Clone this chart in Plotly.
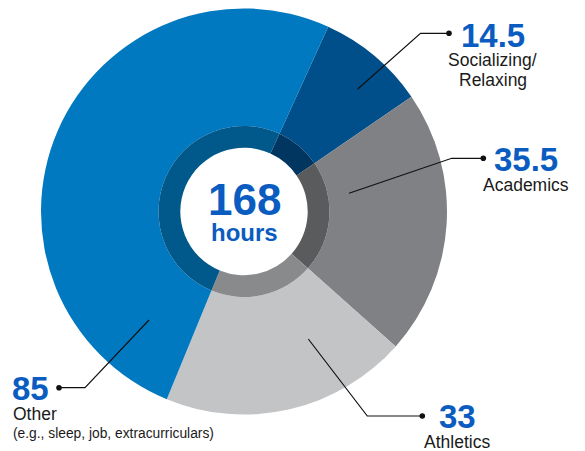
import plotly.graph_objects as go

# ---- data ----
categories = ["Socializing/<br>Relaxing", "Academics", "Athletics", "Other"]
hours = [14.5, 35.5, 33, 85]
value_labels = ["14.5", "35.5", "33", "85"]
total_label = "168"
total_unit = "hours"
other_note = "(e.g., sleep, job, extracurriculars)"

# ---- styling ----
slice_colors = ["#004f8b", "#808184", "#c3c4c6", "#0079c1"]
ring_colors = ["#003660", "#5a5b5d", "#898a8b", "#00588b"]
BLUE = "#0a5cc0"
W, H = 585, 451
OFF = 8                        # page body margin compensation
FW, FH = W - OFF, H - OFF
CX, CY = 244, 211.5            # pie centre (page px, from top)
R_OUT, R_RING, R_HOLE = 203, 85.5, 63.7
ROT = 24.5

def dom(r):
    return dict(x=[(CX - r - OFF) / FW, (CX + r - OFF) / FW],
                y=[1 - (CY + r - OFF) / FH, 1 - (CY - r - OFF) / FH])

fig = go.Figure()
fig.add_trace(go.Pie(values=hours, labels=categories, sort=False, direction="clockwise",
                     rotation=ROT, hole=R_RING / R_OUT, domain=dom(R_OUT),
                     marker=dict(colors=slice_colors, line=dict(width=0)),
                     textinfo="none", hoverinfo="label+value", showlegend=False))
fig.add_trace(go.Pie(values=hours, labels=categories, sort=False, direction="clockwise",
                     rotation=ROT, hole=R_HOLE / R_RING, domain=dom(R_RING),
                     marker=dict(colors=ring_colors, line=dict(width=0)),
                     textinfo="none", hoverinfo="skip", showlegend=False))
# invisible scatter so the cartesian axes exist for annotations/shapes
fig.add_trace(go.Scatter(x=[OFF, W], y=[OFF, H], mode="markers", marker=dict(opacity=0),
                         hoverinfo="skip", showlegend=False))

# leader lines (page pixel coordinates, y from top)
leaders = [
    [(357.5, 89.3), (420.5, 33.3), (449, 33.3)],
    [(349, 193.3), (451.7, 158.3), (483.3, 158.3)],
    [(308.3, 339), (367.3, 416), (422.3, 416)],
    [(149, 320), (85, 387.7), (59, 387.7)],
]
shapes = []
for pts in leaders:
    path = "M " + " L ".join(f"{x},{y}" for x, y in pts)
    shapes.append(dict(type="path", path=path, xref="x", yref="y", layer="above",
                       line=dict(color="#111111", width=1.2)))
    ex, ey = pts[-1]
    shapes.append(dict(type="circle", xref="x", yref="y", layer="above",
                       xsizemode="pixel", ysizemode="pixel", xanchor=ex, yanchor=ey,
                       x0=-2.8, x1=2.8, y0=-2.8, y1=2.8,
                       fillcolor="#111111", line=dict(width=0)))

FONT = "Liberation Sans, Arial, Helvetica, sans-serif"
ann = []
def add(text, x, y, size, color, xanchor="center", bold=False):
    t = f"<b>{text}</b>" if bold else text
    ann.append(dict(text=t, x=x, y=y, xref="x", yref="y", showarrow=False,
                    xanchor=xanchor, yanchor="middle",
                    font=dict(family=FONT, size=size, color=color)))

LBL = 17.5
VAL = 33
TXT = "#1a1a1a"
# value + category labels
add(value_labels[0], 493, 35, VAL, BLUE, bold=True)
add("Socializing/", 492.5, 60, LBL, TXT)
add("Relaxing", 492.5, 80, LBL, TXT)
add(value_labels[1], 526, 159, VAL, BLUE, bold=True)
add(categories[1], 526, 184.5, LBL, TXT)
add(value_labels[2], 457, 416.5, VAL, BLUE, bold=True)
add(categories[2], 457, 441.5, LBL, TXT)
add(value_labels[3], 10, 388, VAL, BLUE, xanchor="left", bold=True)
add(categories[3], 11, 414, LBL, TXT, xanchor="left")
add(other_note, 11, 433, 13.8, TXT, xanchor="left")
# centre text
add(total_label, CX, 199, 44, BLUE, bold=True)
add(total_unit, CX, 232, 24, BLUE, bold=True)

fig.update_layout(
    width=FW, height=FH, margin=dict(l=0, r=0, t=0, b=0),
    paper_bgcolor="white", plot_bgcolor="rgba(0,0,0,0)",
    xaxis=dict(range=[OFF, W], visible=False, fixedrange=True),
    yaxis=dict(range=[H, OFF], visible=False, fixedrange=True),
    annotations=ann, shapes=shapes, showlegend=False,
)
fig.write_html("out.html")
